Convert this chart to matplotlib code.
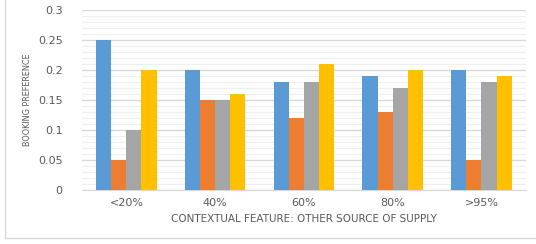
import numpy as np
import matplotlib.pyplot as plt
from matplotlib.patches import Rectangle
from matplotlib.ticker import MultipleLocator

categories = ['<20%', '40%', '60%', '80%', '>95%']
series_1 = [0.25, 0.20, 0.18, 0.19, 0.20]
series_2 = [0.05, 0.15, 0.12, 0.13, 0.05]
series_3 = [0.10, 0.15, 0.18, 0.17, 0.18]
series_4 = [0.20, 0.16, 0.21, 0.20, 0.19]
colors = ['#5B9BD5', '#ED7D31', '#A5A5A5', '#FFC000']

fig = plt.figure(figsize=(5.36, 2.44), dpi=100)
ax = fig.add_axes([0.153, 0.221, 0.828, 0.738])

# outer chart frame
fig.patches.append(Rectangle((5 / 536, 1 - 238 / 244), 1.2, 1.2,
                             transform=fig.transFigure, fill=False,
                             edgecolor='#d9d9d9', linewidth=1))

x = np.arange(len(categories))
w = 0.17
for i, vals in enumerate([series_1, series_2, series_3, series_4]):
    ax.bar(x + (i - 1.5) * w, vals, w, color=colors[i], zorder=3)

ax.set_xlim(-0.5, len(categories) - 0.5)
ax.set_ylim(0, 0.3)
ax.yaxis.set_major_locator(MultipleLocator(0.05))
ax.yaxis.set_minor_locator(MultipleLocator(0.01))
ax.set_yticks([0, 0.05, 0.1, 0.15, 0.2, 0.25, 0.3])
ax.set_yticklabels(['0', '0.05', '0.1', '0.15', '0.2', '0.25', '0.3'])
ax.grid(axis='y', which='major', color='#d9d9d9', linewidth=1, zorder=0)
ax.grid(axis='y', which='minor', color='#efefef', linewidth=0.8, zorder=0)
ax.set_xticks(x)
ax.set_xticklabels(categories)

for s in ['top', 'right', 'left']:
    ax.spines[s].set_visible(False)
ax.spines['bottom'].set_color('#d9d9d9')
ax.tick_params(which='both', length=0, colors='#595959', labelsize=8, pad=6)
ax.tick_params(axis='y', pad=14)

ax.set_ylabel('BOOKING PREFERENCE', fontsize=6.5, color='#595959',
              fontstretch='condensed', labelpad=4)
ax.set_xlabel('CONTEXTUAL FEATURE: OTHER SOURCE OF SUPPLY', fontsize=7.5,
              color='#595959', labelpad=4)

fig.savefig('out.png', dpi=100)
